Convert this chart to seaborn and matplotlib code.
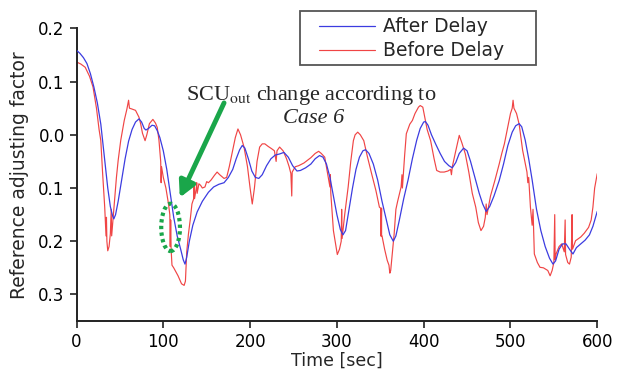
import numpy as np
import pandas as pd
import matplotlib
matplotlib.use("Agg")
import matplotlib.pyplot as plt
import seaborn as sns
from matplotlib.patches import Ellipse, Rectangle
from matplotlib.ticker import FuncFormatter

# ---- data ----
after_t = [0, 4, 8, 12, 16, 20, 24, 28, 32, 36, 39, 41.5, 43, 45, 48, 52, 56, 60, 64, 68, 72, 75, 78, 80,
           83, 87, 90, 93, 96, 100, 104, 108, 112, 116, 120, 123, 125, 127, 130, 134, 139, 145, 152, 158,
           164, 170, 175, 180, 184, 188, 191, 194, 198, 202, 206, 210, 214, 219, 224, 229, 234, 239, 244,
           249, 254, 258, 264, 270, 275, 280, 284, 288, 292, 296, 300, 304, 307, 310, 314, 318, 322, 326,
           330, 333, 337, 342, 347, 352, 357, 361, 365, 368, 372, 377, 382, 387, 392, 396, 400, 402, 405,
           409, 414, 419, 424, 429, 433, 437, 441, 446, 450, 454, 459, 464, 468, 472, 476, 481, 487, 492,
           497, 502, 506, 510, 513, 517, 521, 525, 530, 535, 540, 545, 549, 552, 556, 560, 564, 568, 572,
           576, 581, 586, 591, 595, 600]
after_y = [0.159, 0.153, 0.145, 0.134, 0.115, 0.09, 0.06, 0.02, -0.04, -0.1, -0.135, -0.152, -0.158, -0.15,
           -0.125, -0.085, -0.045, -0.012, 0.01, 0.024, 0.03, 0.024, 0.012, 0.009, 0.012, 0.018, 0.017,
           0.008, -0.005, -0.03, -0.065, -0.11, -0.155, -0.19, -0.215, -0.235, -0.243, -0.23, -0.2, -0.17,
           -0.145, -0.125, -0.108, -0.098, -0.093, -0.09, -0.08, -0.065, -0.045, -0.028, -0.02, -0.025,
           -0.045, -0.068, -0.08, -0.082, -0.075, -0.058, -0.045, -0.038, -0.036, -0.033, -0.042, -0.058,
           -0.068, -0.067, -0.062, -0.055, -0.045, -0.039, -0.042, -0.055, -0.08, -0.115, -0.15, -0.178,
           -0.188, -0.18, -0.14, -0.1, -0.065, -0.042, -0.03, -0.028, -0.035, -0.055, -0.085, -0.125,
           -0.16, -0.188, -0.2, -0.19, -0.16, -0.12, -0.085, -0.045, -0.01, 0.012, 0.024, 0.025, 0.018,
           0.0, -0.018, -0.035, -0.05, -0.058, -0.062, -0.052, -0.035, -0.025, -0.03, -0.05, -0.08, -0.11,
           -0.13, -0.144, -0.135, -0.115, -0.086, -0.055, -0.02, 0.005, 0.017, 0.021, 0.015, -0.01, -0.045,
           -0.085, -0.14, -0.18, -0.21, -0.232, -0.243, -0.237, -0.215, -0.205, -0.205, -0.215, -0.224,
           -0.212, -0.205, -0.198, -0.188, -0.172, -0.144]

before_t = [0, 5, 10, 15, 19, 23, 26, 28, 30, 32.5, 34, 34.5, 35, 36, 37.5, 39, 40, 40.5, 42, 44, 46, 48,
            51, 55, 58, 60, 61, 63, 68, 72, 74, 76, 79, 81, 84, 88, 91, 93, 95, 97, 97.5, 98, 100, 103,
            106, 107.5, 108, 108.5, 109, 110, 112, 114, 117, 121, 124, 125.5, 127, 129, 131, 133, 135,
            135.5, 136, 138, 138.5, 139, 141, 143, 145, 148, 150, 152, 155, 159, 162, 165, 170, 173, 176,
            180, 183, 186, 189, 193, 197, 200, 202.5, 205, 208, 211, 214, 217, 221, 224.7, 228, 230, 231,
            234, 238, 242, 245, 247, 248, 248.5, 252, 256, 262, 266, 270, 275, 279, 282, 286, 289, 292,
            292.5, 293, 296, 300.5, 303, 305, 305.5, 306, 309, 313, 316, 319, 321, 324, 327, 331, 335, 340,
            345, 349, 350.5, 350.5, 351, 351, 351.5, 351.5, 352, 355, 358, 360, 361, 362, 364, 366, 368,
            370, 374, 375, 375.5, 378, 380, 384, 387, 390, 394, 396, 399, 401, 404, 408, 412, 415, 419,
            423.6, 428, 431, 432, 433, 437, 441, 444, 448, 452, 456, 460, 463, 466, 469, 471, 472, 473,
            477, 482, 487, 490, 493, 497, 500, 502, 503, 504, 507, 510, 514, 516, 519, 520, 521, 523, 525,
            526, 527.5, 531, 534, 538, 543, 545.7, 548, 550, 551, 551.5, 552.5, 556, 559, 562, 563, 563.5,
            566, 568, 570, 571, 571.5, 575, 581, 585, 590, 593, 595, 597, 600]
before_y = [0.137, 0.133, 0.127, 0.11, 0.09, 0.05, 0.01, -0.011, -0.07, -0.136, -0.19, -0.155, -0.2,
            -0.218, -0.21, -0.186, -0.14, -0.19, -0.16, -0.12, -0.08, -0.048, -0.01, 0.027, 0.048, 0.065,
            0.05, 0.049, 0.046, 0.033, 0.02, 0.003, -0.011, 0.0, 0.021, 0.029, 0.022, 0.014, -0.01, -0.05,
            -0.09, -0.06, -0.08, -0.1, -0.13, -0.15, -0.21, -0.16, -0.215, -0.245, -0.25, -0.256, -0.265,
            -0.28, -0.283, -0.275, -0.22, -0.186, -0.16, -0.13, -0.12, -0.092, -0.12, -0.1, -0.09, -0.11,
            -0.092, -0.095, -0.1, -0.098, -0.088, -0.09, -0.085, -0.076, -0.07, -0.075, -0.082, -0.08,
            -0.06, -0.029, -0.005, 0.011, 0.0, -0.023, -0.06, -0.1, -0.13, -0.1, -0.05, -0.023, -0.017,
            -0.017, -0.022, -0.026, -0.03, -0.05, -0.03, -0.023, -0.03, -0.045, -0.06, -0.073, -0.115,
            -0.07, -0.06, -0.058, -0.053, -0.048, -0.043, -0.035, -0.031, -0.035, -0.042, -0.07, -0.098,
            -0.075, -0.11, -0.18, -0.225, -0.215, -0.2, -0.14, -0.195, -0.15, -0.098, -0.05, -0.011, 0.0,
            0.005, 0.0, -0.011, -0.04, -0.073, -0.105, -0.136, -0.138, -0.19, -0.138, -0.19, -0.138, -0.19,
            -0.19, -0.215, -0.236, -0.245, -0.26, -0.255, -0.22, -0.186, -0.14, -0.125, -0.098, -0.075,
            -0.1, -0.04, 0.002, 0.02, 0.027, 0.04, 0.052, 0.055, 0.052, 0.035, 0.01, -0.011, -0.045,
            -0.067, -0.07, -0.07, -0.068, -0.065, -0.075, -0.06, -0.03, -0.001, -0.015, -0.036, -0.07,
            -0.11, -0.136, -0.165, -0.18, -0.172, -0.155, -0.13, -0.15, -0.115, -0.086, -0.055, -0.035,
            -0.017, 0.015, 0.04, 0.05, 0.065, 0.05, 0.04, 0.02, -0.029, -0.045, -0.07, -0.09, -0.08,
            -0.136, -0.17, -0.14, -0.224, -0.24, -0.249, -0.25, -0.255, -0.265, -0.255, -0.24, -0.15,
            -0.235, -0.224, -0.21, -0.205, -0.22, -0.16, -0.225, -0.24, -0.243, -0.23, -0.15, -0.215,
            -0.199, -0.192, -0.185, -0.174, -0.16, -0.136, -0.1, -0.073]

x_ticks = [0, 100, 200, 300, 400, 500, 600]
y_ticks = [0.2, 0.1, 0.0, -0.1, -0.2, -0.3]

after_df = pd.DataFrame({"t": after_t, "v": after_y})
before_df = pd.DataFrame({"t": before_t, "v": before_y})

# ---- style ----
sns.set_style("ticks")
plt.rcParams["font.family"] = ["DejaVu Sans"]
plt.rcParams["mathtext.fontset"] = "stix"

W, H = 617, 369
fig = plt.figure(figsize=(W / 100, H / 100), dpi=100)
ax = fig.add_axes([0.124, 0.130, 0.844, 0.793])

blue = "#3c3ce0"
red = "#f04545"
green = "#1aa64a"

sns.lineplot(data=before_df, x="t", y="v", ax=ax, color=red, lw=0.85, sort=False,
             estimator=None, label="Before Delay", zorder=2)
sns.lineplot(data=after_df, x="t", y="v", ax=ax, color=blue, lw=0.9, sort=False,
             estimator=None, label="After Delay", zorder=3)

ax.set_xlim(0, 600)
ax.set_ylim(-0.35, 0.2)
ax.set_xticks(x_ticks)
ax.set_yticks(y_ticks)
ax.yaxis.set_major_formatter(FuncFormatter(lambda v, p: f"{abs(v):.1f}"))
ax.tick_params(axis="both", labelsize=12, direction="out", length=5, width=1.2, colors="#222222")
for lab in ax.get_xticklabels() + ax.get_yticklabels():
    lab.set_color("black")
ax.spines["top"].set_visible(False)
ax.spines["right"].set_visible(False)
for s in ("left", "bottom"):
    ax.spines[s].set_linewidth(1.4)
    ax.spines[s].set_color("#222222")

ax.set_xlabel("Time [sec]", fontsize=12.5, labelpad=1)
ax.set_ylabel("Reference adjusting factor", fontsize=13.5, labelpad=7)

# legend (frame drawn separately to match the wide box)
handles, labels = ax.get_legend_handles_labels()
order = [labels.index("After Delay"), labels.index("Before Delay")]
leg = ax.legend([handles[i] for i in order], [labels[i] for i in order],
                loc="upper left", bbox_to_anchor=(319 / W, 1 - 17.5 / H),
                bbox_transform=fig.transFigure, fontsize=13.5, frameon=False,
                handlelength=3.0, handletextpad=0.4, borderpad=0, labelspacing=0.25,
                borderaxespad=0)
leg.set_zorder(10)
fig.patches.append(Rectangle((300 / W, 1 - 65 / H), 236 / W, 54 / H, transform=fig.transFigure,
                             fill=False, edgecolor="#555555", lw=1.3, zorder=11))

# annotation
ax.text(126, 0.065, "SCU$_{\\mathrm{out}}$ change according to", fontsize=16,
        family="Liberation Serif", ha="left", va="baseline")
ax.text(273, 0.022, "Case 6", fontsize=16, family="Liberation Serif", style="italic",
        ha="center", va="baseline")
ax.annotate("", xy=(119, -0.118), xytext=(170, 0.06),
            arrowprops=dict(arrowstyle="-|>,head_length=0.95,head_width=0.5", color=green,
                            lw=3.5, shrinkA=0, shrinkB=0))
ax.add_patch(Ellipse((108.4, -0.174), 21.6, 0.089, fill=False, edgecolor=green,
                     lw=3, linestyle=(0, (0.8, 0.8)), zorder=5))

fig.savefig("out.png", dpi=100)
